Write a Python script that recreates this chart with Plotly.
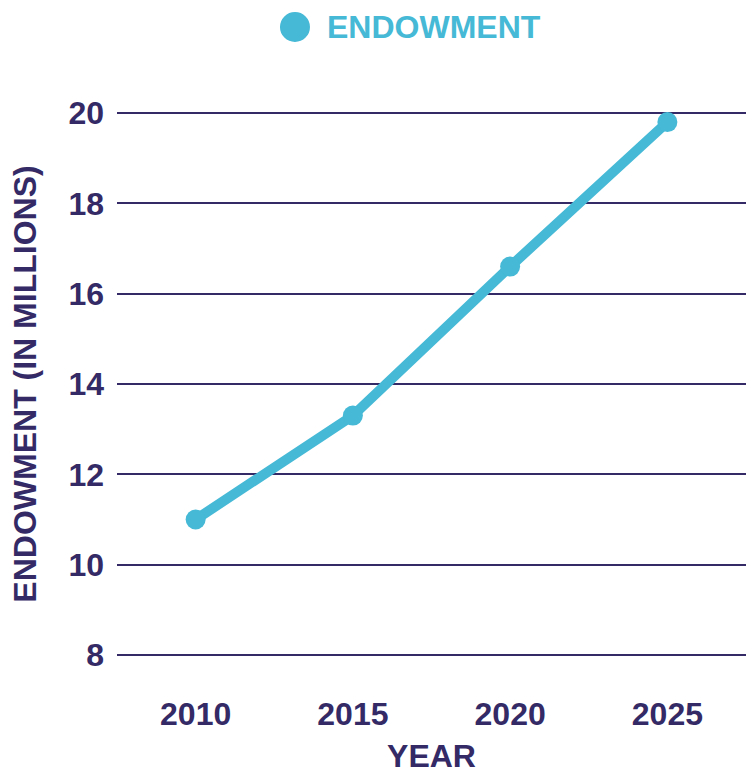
import plotly.graph_objects as go

years = ["2010", "2015", "2020", "2025"]
endowment = [11.0, 13.3, 16.6, 19.8]
y_ticks = [8, 10, 12, 14, 16, 18, 20]
series_name = "ENDOWMENT"

navy = "#332a66"
teal = "#45b9d6"
font_family = "Liberation Sans, Arial, sans-serif"

fig = go.Figure()
fig.add_trace(go.Scatter(
    x=years, y=endowment, mode="lines+markers", name=series_name,
    line=dict(color=teal, width=10),
    marker=dict(color=teal, size=20),
    showlegend=False,
))

# Custom legend: large circle + label
fig.add_shape(type="circle", xref="paper", yref="paper",
              x0=0.2591, x1=0.3068, y0=1.1107, y1=1.1643,
              fillcolor=teal, line=dict(width=0))
fig.add_annotation(text=f"<b>{series_name}</b>", xref="paper", yref="paper",
                   x=0.3307, y=1.1375, xanchor="left", yanchor="middle",
                   showarrow=False, font=dict(size=32, color=teal, family=font_family))

fig.update_layout(
    width=754, height=774,
    margin=dict(l=117, r=8, t=104, b=110, autoexpand=False),
    plot_bgcolor="white", paper_bgcolor="white",
    font=dict(family=font_family, color=navy, size=32),
    showlegend=False,
    xaxis=dict(
        type="category", range=[-0.5, 3.5], showgrid=False, zeroline=False, showline=False,
        automargin=False,
        ticks="", tickfont=dict(size=32, color=navy, family=font_family),
        ticklabelstandoff=28,
        tickvals=years, ticktext=[f"<b>{y}</b>" for y in years],
        title=dict(text="<b>YEAR</b>", font=dict(size=32, color=navy), standoff=44),
    ),
    yaxis=dict(
        range=[7.8, 20.2], tickvals=y_ticks, ticktext=[f"<b>{v}</b>" for v in y_ticks],
        showgrid=True, gridcolor=navy, gridwidth=2, zeroline=False, showline=False,
        automargin=False,
        ticks="", tickfont=dict(size=32, color=navy, family=font_family),
        ticklabelstandoff=12,
        title=dict(text="<b>ENDOWMENT (IN MILLIONS)</b>", font=dict(size=32, color=navy), standoff=22),
    ),
)

fig.write_html("out.html")
